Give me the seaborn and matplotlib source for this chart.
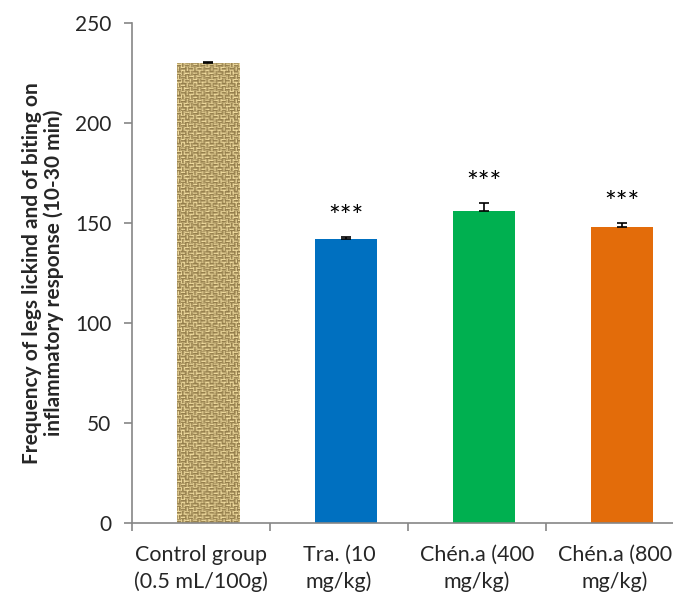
import numpy as np
import pandas as pd
import matplotlib
matplotlib.use("Agg")
import matplotlib.pyplot as plt
import seaborn as sns

# Groups, mean counts and SEM
groups = ["Control group\n(0.5 mL/100g)", "Tra. (10\nmg/kg)",
          "Chén.a (400\nmg/kg)", "Chén.a (800\nmg/kg)"]
means = [230, 142, 156, 148]
sems = [0.5, 1, 4, 2]
signif = ["", "***", "***", "***"]
bar_colors = ["#C9AE74", "#0070C0", "#00B050", "#E36C0A"]
yticks = [0, 50, 100, 150, 200, 250]

sns.set_theme(style="white")
plt.rcParams["font.family"] = ["Lato", "DejaVu Sans"]

AXIS_GREY = "#868686"
W, H = 673, 602
fig = plt.figure(figsize=(W / 100, H / 100), dpi=100)
ax = fig.add_axes([132 / W, 79 / H, 552 / W, 500 / H])

df = pd.DataFrame({"group": groups, "mean": means})
sns.barplot(data=df, x="group", y="mean", hue="group", palette=bar_colors,
            legend=False, width=0.45, errorbar=None, ax=ax, zorder=2,
            linewidth=0, saturation=1)

# Woven burlap fill for the control bar
ctrl = ax.patches[0]
x0, w, h = ctrl.get_x(), ctrl.get_width(), ctrl.get_height()
ny, nx = 460, 62
ii, jj = np.mgrid[0:ny, 0:nx]
blk = ((ii // 4) + (jj // 4)) % 2
t = np.where(blk == 0, ii % 3, jj % 3)
base = np.choose(t, [0.62, 1.0, 0.35])
shade = (0.84 + 0.09 * np.sin(ii * 1.73 + jj * 0.31)
         + 0.07 * np.cos(jj * 2.29 - ii * 0.67)
         - 0.06 * np.sin(ii * 0.43) * np.sin(jj * 0.97))
v = np.clip(base * shade, 0, 1)[..., None]
dark = np.array([0.45, 0.36, 0.18])
light = np.array([0.96, 0.88, 0.64])
tex = dark + (light - dark) * v
ax.imshow(tex, extent=(x0, x0 + w, 0, h), aspect="auto", zorder=2.5,
          interpolation="bilinear")

# Upper error bars
pos = np.arange(len(groups))
ax.errorbar(pos, means, yerr=[np.zeros(len(sems)), sems], fmt="none",
            ecolor="black", elinewidth=1.2, capsize=3.8, capthick=1.2, zorder=3)

# Significance marks
for p, m, s, lab in zip(pos, means, sems, signif):
    if lab:
        ax.annotate(lab, (p, m + s), xytext=(0, 4), textcoords="offset points",
                    ha="center", va="bottom", fontsize=20, color="black")

ax.set_xlim(-0.551, 3.449)
ax.set_ylim(0, 250)
ax.set_yticks(yticks)
ax.set_yticklabels([str(v) for v in yticks], fontsize=15)

# Category labels centred between boundary ticks, boundary ticks as minors
ax.set_xticks(pos - 0.05)
ax.set_xticklabels(groups, fontsize=15.5, linespacing=1.4)
ax.set_xticks(pos - 0.551, minor=True)
ax.tick_params(axis="x", which="major", length=0, pad=16)
ax.tick_params(axis="x", which="minor", length=6, width=1.2, color=AXIS_GREY,
               direction="out", bottom=True)
ax.tick_params(axis="y", length=6, width=1.2, color=AXIS_GREY, direction="out",
               left=True, pad=9)

for side in ["top", "right"]:
    ax.spines[side].set_visible(False)
for side in ["left", "bottom"]:
    ax.spines[side].set_color(AXIS_GREY)
    ax.spines[side].set_linewidth(1.2)

ax.set_xlabel("")
ax.set_ylabel("Frequency of legs lickind and of biting on\ninflammatory response (10-30 min)",
              fontsize=15, fontweight="bold", linespacing=1.05, labelpad=8)

fig.savefig("out.png", dpi=100)
